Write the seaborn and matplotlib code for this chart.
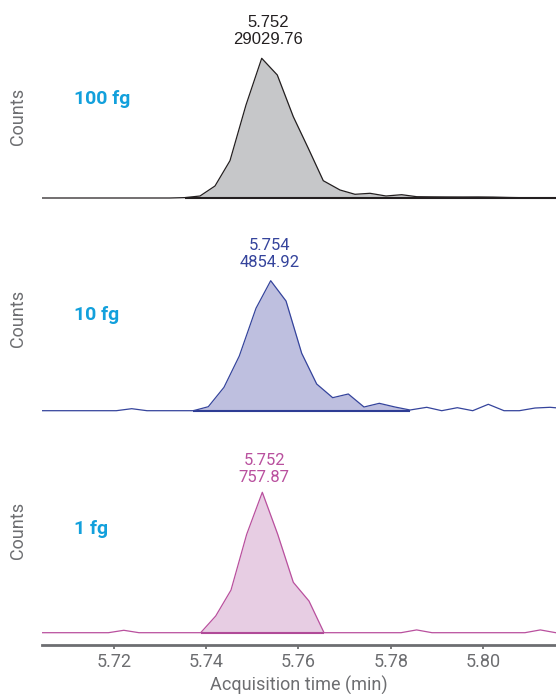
import numpy as np
import pandas as pd
import matplotlib
matplotlib.use("Agg")
import matplotlib.pyplot as plt
import seaborn as sns

# ---------------- data ----------------
amounts = ["100 fg", "10 fg", "1 fg"]
rt_labels = ["5.752", "5.754", "5.752"]
peak_heights = [29029.76, 4854.92, 757.87]
int_start = [5.73540, 5.73720, 5.73880]
int_end = [5.81888, 5.78419, 5.76554]

time_100fg = [5.70400, 5.73214, 5.73540, 5.73865, 5.74190, 5.74515, 5.74862,
              5.75203, 5.75541, 5.75888, 5.76213, 5.76538, 5.76901, 5.77226,
              5.77551, 5.77898, 5.78238, 5.78564, 5.78895, 5.79221, 5.79568,
              5.79893, 5.80218, 5.80565, 5.80890, 5.81237, 5.81563, 5.81888]
counts_100fg = [0, 0, 80, 415, 2494, 7751, 19325,
                29029.76, 25559, 16894, 10328, 3595, 1662, 769,
                977, 416, 686, 270, 240, 220, 210, 220, 190, 110,
                60, 40, 20, 20]

time_10fg = [5.70385, 5.72050, 5.72384, 5.72716, 5.73388, 5.73720, 5.74045,
             5.74385, 5.74717, 5.75079, 5.75398, 5.75730, 5.76070, 5.76395,
             5.76742, 5.77081, 5.77421, 5.77753, 5.78093, 5.78419, 5.78781,
             5.79106, 5.79444, 5.79778, 5.80116, 5.80457, 5.80789, 5.81129,
             5.81454, 5.81780]
counts_10fg = [0, 0, 75, 0, 0, 0, 149,
               874, 2043, 3825, 4854.92, 4097, 2144, 997,
               486, 624, 138, 276, 138, 26, 127,
               0, 112, 0, 239, 0, 0, 100,
               127, 80]

time_1fg = [5.70209, 5.71879, 5.72213, 5.72542, 5.73546, 5.73880, 5.74205,
            5.74537, 5.74877, 5.75216, 5.75550, 5.75888, 5.76228, 5.76554,
            5.76888, 5.78223, 5.78562, 5.78896, 5.80910, 5.81244, 5.81578,
            5.81910]
counts_1fg = [0, 0, 13, 0, 0, 0, 90,
              230, 531, 757.87, 531, 272, 171, 0,
              0, 0, 15, 0, 0, 15, 0,
              0]

tick_values = [5.72, 5.74, 5.76, 5.78, 5.80]
x_range = [5.70439, 5.81584]
xlabel = "Acquisition time (min)"
ylabel = "Counts"

# ---------------- styles / layout ----------------
line_colors = ["#231f20", "#35449c", "#b9509e"]
fill_colors = ["#c6c7c9", "#bebfdf", "#e7cde3"]
base_colors = ["#231f20", "#2e3c94", "#b04a98"]
label_cyan = "#12a0dc"
gray = "#6d6e71"

W, H = 556, 694
# (axes top px, axes bottom px, baseline px, peak px)
panel_px = [(0, 215, 198.0, 58.3), (220, 430, 410.7, 280.7), (440, 645, 632.7, 492.3)]
annot_offset = [(6, 27), (-1, 26.5), (2, 23)]
annot_font = ["Liberation Sans", "Roboto", "Roboto"]
amount_pos = [(74, 99), (74, 315), (74, 529)]
counts_pos = [(18.5, 116.5), (18.5, 318.5), (18.5, 530)]

sns.set_theme(style="white")
plt.rcParams["font.family"] = ["Roboto", "DejaVu Sans"]

fig = plt.figure(figsize=(W / 100, H / 100), dpi=100)

series = [(time_100fg, counts_100fg), (time_10fg, counts_10fg), (time_1fg, counts_1fg)]
left_px = 42

for i, (t, c) in enumerate(series):
    top_px, bot_px, base_px, peak_px = panel_px[i]
    ax = fig.add_axes([left_px / W, 1 - bot_px / H, (W - left_px) / W, (bot_px - top_px) / H])
    cpp = peak_heights[i] / (base_px - peak_px)
    ax.set_ylim(-(bot_px - base_px) * cpp, (base_px - top_px) * cpp)
    ax.set_xlim(*x_range)

    df = pd.DataFrame({"time": t, "counts": c})
    tt = np.array(t)
    cc = np.array(c)
    mask = (tt >= int_start[i] - 1e-7) & (tt <= int_end[i] + 1e-7)
    ax.fill_between(tt, cc, 0, where=mask, color=fill_colors[i], linewidth=0, zorder=1)
    sns.lineplot(data=df, x="time", y="counts", ax=ax, color=line_colors[i],
                 linewidth=0.9, estimator=None, errorbar=None, zorder=3)
    ax.hlines(0, int_start[i], int_end[i], color=base_colors[i], linewidth=1.5, zorder=2)

    k = int(np.argmax(cc))
    ax.annotate(f"{rt_labels[i]}\n{peak_heights[i]:.2f}", xy=(tt[k], cc[k]),
                xytext=annot_offset[i], textcoords="offset pixels",
                ha="center", va="center", fontsize=12, color=line_colors[i],
                family=[annot_font[i], "DejaVu Sans"], linespacing=1.2)

    ax.set_xlabel("")
    ax.set_ylabel("")
    for s in ["top", "right", "left"]:
        ax.spines[s].set_visible(False)
    ax.set_yticks([])
    if i < 2:
        ax.spines["bottom"].set_visible(False)
        ax.set_xticks([])
    else:
        ax.spines["bottom"].set_color(gray)
        ax.spines["bottom"].set_linewidth(2.0)
        ax.set_xticks(tick_values)
        ax.set_xticklabels([f"{v:.2f}" for v in tick_values])
        ax.tick_params(axis="x", bottom=True, length=3, width=1.3, color=gray,
                       labelcolor=gray, labelsize=13, pad=3, direction="out")
        ax.set_xlabel(xlabel, fontsize=13, color=gray, labelpad=3)
    ax.patch.set_alpha(0)

    fig.text(amount_pos[i][0] / W, 1 - amount_pos[i][1] / H, amounts[i],
             ha="left", va="center", fontsize=14, fontweight="bold", color=label_cyan)
    fig.text(counts_pos[i][0] / W, 1 - counts_pos[i][1] / H, ylabel,
             ha="center", va="center", rotation=90, fontsize=13, color=gray)

fig.savefig("out.png", dpi=100)
